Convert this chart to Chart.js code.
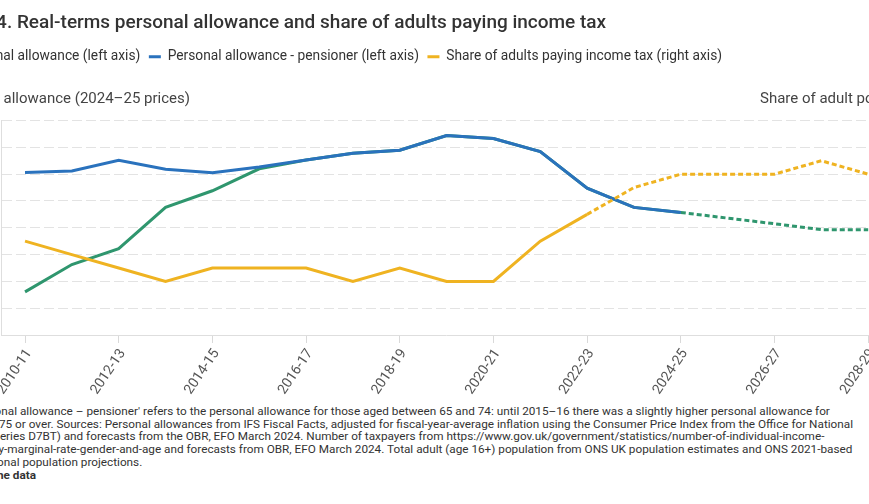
<!DOCTYPE html>
<html>
<head>
<meta charset="utf-8">
<script src="https://cdn.jsdelivr.net/npm/chart.js@4.4.1/dist/chart.umd.min.js"></script>
<style>
  body { margin: 0; background: #fff; overflow: hidden; width: 869px; height: 504px; position: relative; font-family: Roboto, sans-serif; }
  #wrap { position: absolute; left: -58px; top: 0; width: 998px; height: 400px; }
  #note { position: absolute; left: -62px; top: 405px; font-size: 11.76px; line-height: 12.7px; color: #333; white-space: nowrap; }
  #note b { font-weight: 700; }
</style>
</head>
<body>
<div id="wrap"><canvas id="myChart" width="998" height="400"></canvas></div>
<div id="note">
Note: 'Personal allowance – pensioner' refers to the personal allowance for those aged between 65 and 74: until 2015–16 there was a slightly higher personal allowance for<br>
those aged 75 or over. Sources: Personal allowances from IFS Fiscal Facts, adjusted for fiscal-year-average inflation using the Consumer Price Index from the Office for National<br>
Statistics (series D7BT) and forecasts from the OBR, EFO March 2024. Number of taxpayers from https://www.gov.uk/government/statistics/number-of-individual-income-<br>
taxpayers-by-marginal-rate-gender-and-age and forecasts from OBR, EFO March 2024. Total adult (age 16+) population from ONS UK population estimates and ONS 2021-based<br>
interim national population projections.<br>
<b>Download the data</b>
</div>
<script>
const years = [
  '2010-11', '2011-12', '2012-13', '2013-14', '2014-15', '2015-16', '2016-17',
  '2017-18', '2018-19', '2019-20', '2020-21', '2021-22', '2022-23', '2023-24',
  '2024-25', '2025-26', '2026-27', '2027-28', '2028-29'
];

// £, 2024-25 prices
const allowance = [9610, 10630, 11220, 12760, 13380, 14200, 14530, 14780, 14890, 15440,
  15330, 14840, 13480, 12760, 12570, 12360, 12150, 11930, 11930];
const pensioner = [14060, 14120, 14520, 14180, 14050, 14270, 14530, 14780, 14890, 15440,
  15330, 14840, 13480, 12760, 12570, null, null, null, null];
// % of adults
const shareTaxpayers = [57, 56, 55, 54, 55, 55, 55, 54, 55, 54, 54, 57, 59, 61, 62, 62, 62, 63, 62];

const allowanceForecastFrom = 14;   // 2024-25
const shareForecastFrom = 12;       // 2022-23

const leftTitle = 'Personal allowance (2024–25 prices)';
const rightTitle = 'Share of adult population';

const green = '#2f966e';
const blue = '#2a72bd';
const yellow = '#efb321';

// axis titles sit above the plot, horizontally
const axisTitles = {
  id: 'axisTitles',
  afterDraw(chart) {
    const ctx = chart.ctx;
    const y = chart.chartArea.top - 21;
    ctx.save();
    ctx.font = '15px Roboto';
    ctx.fillStyle = '#444';
    ctx.textBaseline = 'middle';
    ctx.textAlign = 'left';
    ctx.fillText(leftTitle, chart.scales.y.left - 1, y);
    ctx.fillText(rightTitle, chart.chartArea.right - 131.6, y);
    ctx.restore();
  }
};

// leave room under the legend for the axis titles, nudge title + legend left
const legendGap = {
  id: 'legendGap',
  beforeInit(chart) {
    const fit = chart.legend.fit;
    chart.legend.fit = function () {
      fit.call(this);
      this.height += 46.9;
    };
  },
  beforeDraw(chart) {
    chart.legend.left = -9.2;
    chart.titleBlock.left = -4;
  }
};

const dashAfter = (start) => (ctx) => ctx.p0DataIndex >= start ? [5, 3] : undefined;

const data = {
  labels: years,
  datasets: [
    {
      label: 'Personal allowance (left axis)',
      data: allowance,
      borderColor: green,
      backgroundColor: green,
      yAxisID: 'y',
      order: 2,
      segment: { borderDash: dashAfter(allowanceForecastFrom) }
    },
    {
      label: 'Personal allowance - pensioner (left axis)',
      data: pensioner,
      borderColor: blue,
      backgroundColor: blue,
      yAxisID: 'y',
      order: 1
    },
    {
      label: 'Share of adults paying income tax (right axis)',
      data: shareTaxpayers,
      borderColor: yellow,
      backgroundColor: yellow,
      yAxisID: 'y1',
      order: 0,
      segment: { borderDash: dashAfter(shareForecastFrom) }
    }
  ]
};

const config = {
  type: 'line',
  data: data,
  options: {
    responsive: false,
    animation: false,
    layout: { padding: 0 },
    elements: {
      line: { borderWidth: 3, tension: 0, borderCapStyle: 'butt' },
      point: { radius: 0, hoverRadius: 0 }
    },
    plugins: {
      title: {
        display: true,
        text: 'Figure 4. Real-terms personal allowance and share of adults paying income tax',
        align: 'start',
        color: '#333',
        font: { family: 'Roboto', size: 19, weight: '500' },
        padding: { top: 11.5, bottom: 7.1 }
      },
      legend: {
        display: true,
        align: 'start',
        labels: {
          boxWidth: 12,
          boxHeight: 3,
          padding: 8.5,
          color: '#333',
          font: { family: 'Roboto', size: 13.75 },
          generateLabels: (chart) => chart.data.datasets.map((ds, i) => ({
            text: ds.label,
            fillStyle: ds.borderColor,
            strokeStyle: ds.borderColor,
            lineWidth: 0,
            hidden: false,
            fontColor: '#333',
            datasetIndex: i
          }))
        }
      },
      tooltip: { enabled: false }
    },
    scales: {
      x: {
        offset: true,
        grid: {
          drawOnChartArea: false,
          drawTicks: true,
          tickLength: 8,
          color: (ctx) => ctx.index % 2 === 0 ? '#d9d9d9' : 'rgba(0,0,0,0)'
        },
        border: { display: true, color: '#dedede' },
        ticks: {
          autoSkip: false,
          minRotation: 56,
          maxRotation: 56,
          labelOffset: 4,
          color: '#555',
          font: { family: 'Roboto', size: 14 },
          callback: function (value, index) {
            return index % 2 === 0 ? this.getLabelForValue(value) : '';
          }
        },
        afterFit: (scale) => { scale.height = 65; }
      },
      y: {
        position: 'left',
        min: 8000,
        max: 16000,
        ticks: {
          stepSize: 1000,
          color: '#555',
          font: { family: 'Roboto', size: 12 },
          callback: (v) => '£' + v.toLocaleString('en-GB')
        },
        grid: { color: '#e3e3e3', drawTicks: false },
        border: { display: true, color: '#dedede', dash: [10, 4] },
        afterFit: (scale) => { scale.width = 59.6; }
      },
      y1: {
        position: 'right',
        min: 50,
        max: 66,
        ticks: {
          stepSize: 2,
          color: '#555',
          font: { family: 'Roboto', size: 12 },
          callback: (v) => v + '%'
        },
        grid: { drawOnChartArea: false, drawTicks: false },
        border: { display: true, color: '#dedede' },
        afterFit: (scale) => { scale.width = 48.4; }
      }
    }
  },
  plugins: [axisTitles, legendGap]
};

const myChart = new Chart(
  document.getElementById('myChart'),
  config
);
</script>
</body>
</html>
